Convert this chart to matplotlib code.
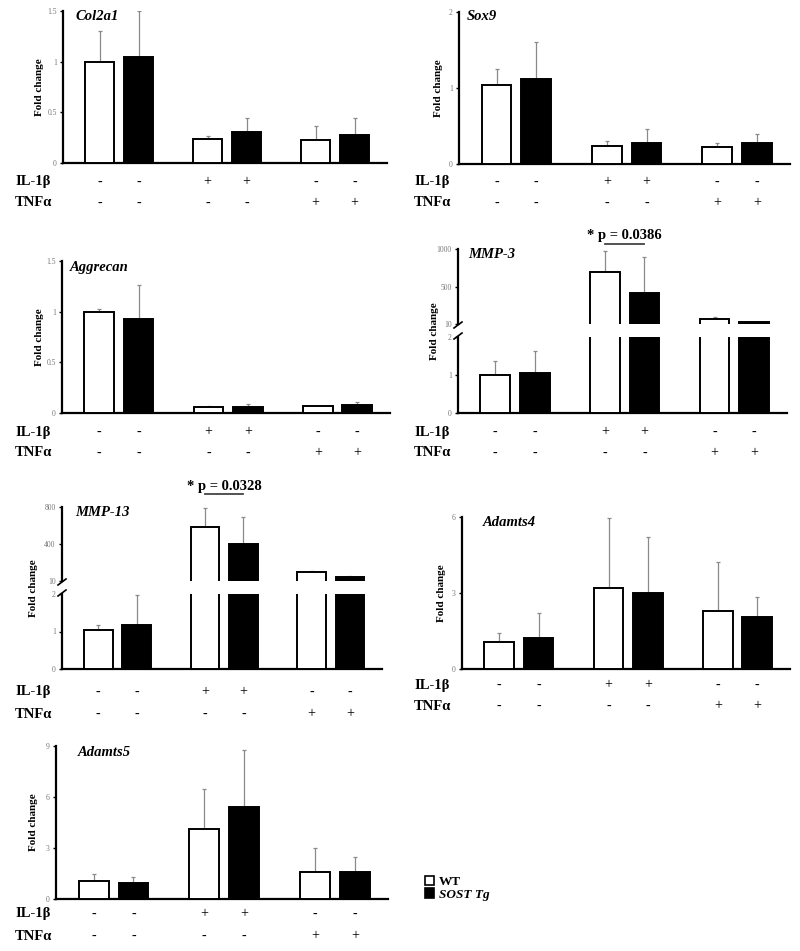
import matplotlib
matplotlib.use('Agg')
import matplotlib.pyplot as plt
import matplotlib.transforms as mtransforms
from matplotlib.patches import Patch
from matplotlib.lines import Line2D

plt.rcParams['font.family'] = ['Liberation Serif', 'DejaVu Serif']

W, H = 800, 951

# --- data (mean, SD) ---
il1b_signs = ['-', '-', '+', '+', '-', '-']
tnfa_signs = ['-', '-', '-', '-', '+', '+']

col2a1_wt = [1.00, 0.24, 0.23]
col2a1_wt_sd = [0.30, 0.03, 0.14]
col2a1_tg = [1.05, 0.31, 0.28]
col2a1_tg_sd = [0.45, 0.13, 0.16]

sox9_wt = [1.04, 0.24, 0.23]
sox9_wt_sd = [0.21, 0.06, 0.05]
sox9_tg = [1.12, 0.28, 0.27]
sox9_tg_sd = [0.48, 0.18, 0.12]

aggrecan_wt = [1.00, 0.06, 0.07]
aggrecan_wt_sd = [0.03, 0.01, 0.0]
aggrecan_tg = [0.93, 0.06, 0.075]
aggrecan_tg_sd = [0.33, 0.03, 0.035]

mmp3_wt = [1.00, 696, 76]
mmp3_wt_sd = [0.38, 277, 24]
mmp3_tg = [1.05, 419, 36]
mmp3_tg_sd = [0.58, 475, 3]

mmp13_wt = [1.03, 586, 106]
mmp13_wt_sd = [0.15, 203, 11]
mmp13_tg = [1.17, 400, 53]
mmp13_tg_sd = [0.81, 293, 7]

adamts4_wt = [1.07, 3.20, 2.29]
adamts4_wt_sd = [0.35, 2.76, 1.93]
adamts4_tg = [1.22, 3.00, 2.05]
adamts4_tg_sd = [0.98, 2.20, 0.79]

adamts5_wt = [1.06, 4.10, 1.60]
adamts5_wt_sd = [0.44, 2.35, 1.40]
adamts5_tg = [0.95, 5.40, 1.60]
adamts5_tg_sd = [0.35, 3.35, 0.90]

fig = plt.figure(figsize=(W / 100, H / 100), dpi=100)


def fx(x):
    return x / W


def fy(y):
    return 1 - y / H


XLIM = (-0.52, 2.48)
OFF = 0.18
BW = 0.27
groups = [0, 1, 2]
bar_x = [g + s for g in groups for s in (-OFF, OFF)]


def style_ax(ax, ticks, labels, lim, bottom=True):
    ax.set_xlim(*XLIM)
    ax.set_ylim(*lim)
    ax.set_yticks(ticks)
    ax.set_yticklabels(labels)
    ax.tick_params(axis='y', length=2.5, width=1, labelsize=5.5,
                   labelcolor='#777777', pad=2)
    ax.set_xticks([])
    for s in ('top', 'right'):
        ax.spines[s].set_visible(False)
    ax.spines['left'].set_linewidth(1.6)
    ax.spines['bottom'].set_linewidth(1.6)
    if not bottom:
        ax.spines['bottom'].set_visible(False)
    ax.patch.set_alpha(0)


def draw_bars(ax, wt, wt_sd, tg, tg_sd, vmin=None):
    for sign, m, sd, fc in ((-1, wt, wt_sd, 'white'), (1, tg, tg_sd, 'black')):
        idx = [i for i in groups if vmin is None or m[i] >= vmin]
        xs = [groups[i] + sign * OFF for i in idx]
        ms = [m[i] for i in idx]
        sds = [sd[i] for i in idx]
        if not idx:
            continue
        ax.bar(xs, ms, BW, color=fc, edgecolor='black', linewidth=1.4, zorder=3)
        ax.errorbar(xs, ms, yerr=[[0] * len(idx), sds], fmt='none',
                    ecolor='#8a8a8a', elinewidth=0.9, capsize=1.5,
                    capthick=0.9, zorder=2)


def rows(ax, y_il, y_tnf, xlab):
    tr = mtransforms.blended_transform_factory(ax.transData, fig.transFigure)
    for x, s in zip(bar_x, il1b_signs):
        ax.text(x, fy(y_il), s, transform=tr, ha='center', va='center',
                fontsize=10, clip_on=False)
    for x, s in zip(bar_x, tnfa_signs):
        ax.text(x, fy(y_tnf), s, transform=tr, ha='center', va='center',
                fontsize=10, clip_on=False)
    fig.text(fx(xlab), fy(y_il), 'IL-1β', ha='left', va='center',
             fontsize=10.5, fontweight='bold')
    fig.text(fx(xlab), fy(y_tnf), 'TNFα', ha='left', va='center',
             fontsize=10.5, fontweight='bold')


def ylabel(x, y):
    fig.text(fx(x), fy(y), 'Fold change', rotation=90, ha='center',
             va='center', fontsize=8, fontweight='bold')


def gene(x, y, name):
    fig.text(fx(x), fy(y), name, ha='left', va='center', fontsize=10.5,
             fontweight='bold', style='italic')


def simple_panel(x0, x1, y0, y1, name, data, ticks, labels, lim, rowy, xlab, ylx, gx, gy):
    ax = fig.add_axes([fx(x0), fy(y1), (x1 - x0) / W, (y1 - y0) / H])
    draw_bars(ax, *data)
    style_ax(ax, ticks, labels, lim)
    rows(ax, rowy[0], rowy[1], xlab)
    ylabel(ylx, (y0 + y1) / 2)
    gene(gx, gy, name)
    return ax


def broken_panel(x0, x1, yt, yb_up, yt_lo, yb, name, data, up_ticks, up_lim,
                 rowy, xlab, ylx, gx, gy, p_text, py):
    axu = fig.add_axes([fx(x0), fy(yb_up), (x1 - x0) / W, (yb_up - yt) / H])
    axl = fig.add_axes([fx(x0), fy(yb), (x1 - x0) / W, (yb - yt_lo) / H])
    draw_bars(axu, *data, vmin=up_lim[0])
    draw_bars(axl, *data)
    style_ax(axu, up_ticks, [str(t) for t in up_ticks], up_lim, bottom=False)
    style_ax(axl, [0, 1, 2], ['0', '1', '2'], (0, 2))
    for yy in (yb_up + 1, yt_lo - 1):
        fig.add_artist(Line2D([fx(x0 - 4), fx(x0 + 4)], [fy(yy + 3), fy(yy - 3)],
                              color='black', lw=1.2))
    rows(axl, rowy[0], rowy[1], xlab)
    ylabel(ylx, (yt + yb) / 2)
    gene(gx, gy, name)
    tr = mtransforms.blended_transform_factory(axu.transData, fig.transFigure)
    axu.plot([1 - OFF, 1 + OFF], [fy(py), fy(py)], transform=tr, color='#444444',
             lw=1.3, clip_on=False)
    axu.text(1, fy(py - 8), p_text, transform=tr, ha='center', va='center',
             fontsize=10.5, fontweight='bold', clip_on=False)


simple_panel(63, 387, 11, 163, 'Col2a1',
             (col2a1_wt, col2a1_wt_sd, col2a1_tg, col2a1_tg_sd),
             [0, 0.5, 1, 1.5], ['0', '0.5', '1', '1.5'], (0, 1.5),
             (182, 203), 15, 40, 75, 17)
simple_panel(459, 790, 12, 164, 'Sox9',
             (sox9_wt, sox9_wt_sd, sox9_tg, sox9_tg_sd),
             [0, 1, 2], ['0', '1', '2'], (0, 2),
             (182, 203), 414, 439, 467, 17)
simple_panel(62, 390, 261, 413, 'Aggrecan',
             (aggrecan_wt, aggrecan_wt_sd, aggrecan_tg, aggrecan_tg_sd),
             [0, 0.5, 1, 1.5], ['0', '0.5', '1', '1.5'], (0, 1.5),
             (432, 453), 15, 40, 70, 268)
broken_panel(458, 787, 249, 324, 337, 413, 'MMP-3',
             (mmp3_wt, mmp3_wt_sd, mmp3_tg, mmp3_tg_sd),
             [10, 500, 1000], (10, 1000),
             (432, 453), 414, 435, 468, 254, '* p = 0.0386', 244)
broken_panel(62, 382, 507, 581, 594, 669, 'MMP-13',
             (mmp13_wt, mmp13_wt_sd, mmp13_tg, mmp13_tg_sd),
             [10, 400, 800], (10, 800),
             (692, 714), 15, 33, 75, 512, '* p = 0.0328', 494)
simple_panel(462, 790, 517, 669, 'Adamts4',
             (adamts4_wt, adamts4_wt_sd, adamts4_tg, adamts4_tg_sd),
             [0, 3, 6], ['0', '3', '6'], (0, 6),
             (685, 706), 414, 442, 483, 522)
simple_panel(56, 388, 746, 899, 'Adamts5',
             (adamts5_wt, adamts5_wt_sd, adamts5_tg, adamts5_tg_sd),
             [0, 3, 6, 9], ['0', '3', '6', '9'], (0, 9),
             (914, 936), 15, 33, 78, 752)

handles = [Patch(facecolor='white', edgecolor='black', linewidth=1.2),
           Patch(facecolor='black', edgecolor='black', linewidth=1.2)]
leg = fig.legend(handles, ['WT', 'SOST Tg'], loc='upper left',
                 bbox_to_anchor=(fx(418), fy(869)), frameon=False,
                 handlelength=0.7, handleheight=0.7, handletextpad=0.4,
                 labelspacing=0.05, borderpad=0,
                 prop={'size': 9.5, 'weight': 'bold'})
leg.get_texts()[1].set_style('italic')

fig.savefig('out.png', dpi=100)
